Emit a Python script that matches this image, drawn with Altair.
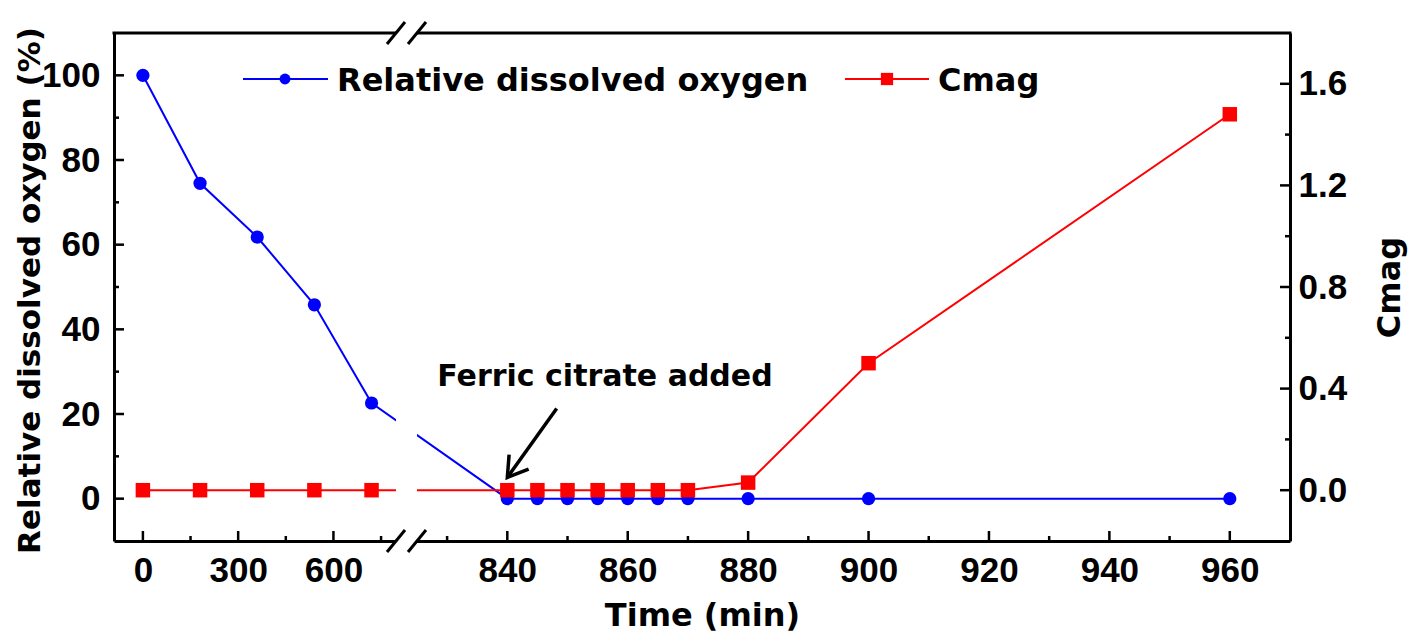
import altair as alt
import pandas as pd

# ---------------- data ----------------
time_min = [0, 180, 360, 540, 720, 840, 845, 850, 855, 860, 865, 870, 880, 900, 960]
rel_oxygen = [100, 74.5, 61.8, 45.8, 22.6, 0, 0, 0, 0, 0, 0, 0, 0, 0, 0]
cmag = [0, 0, 0, 0, 0, 0, 0, 0, 0, 0, 0, 0, 0.03, 0.50, 1.48]

x_major = [0, 300, 600, 840, 860, 880, 900, 920, 940, 960]
x_minor = [150, 450, 750, 830, 850, 870, 890, 910, 930, 950]
yl_major = [0, 20, 40, 60, 80, 100]
yl_minor = [10, 30, 50, 70, 90]
yr_major = [0.0, 0.4, 0.8, 1.2, 1.6]
yr_minor = [0.2, 0.6, 1.0, 1.4]

series_names = ["Relative dissolved oxygen", "Cmag"]
annotation = ["Ferric citrate added"]
arrow_tail = [848.2, 21.3]   # (time, % oxygen)
arrow_tip = [840, 5.0]

# broken x axis: [start, end of segment 1, start of segment 2, end]
x_domain = [-91, 797, 825, 970]
yl_domain = [-10, 110]
yr_domain = [-0.2, 1.8]

# ---------------- layout / style ----------------
W, H = 1176, 508
X_RANGE = [0, 282, 303, W]
LABEL_FONT = "Liberation Sans"
TEXT_FONT = "DejaVu Sans"
BLUE = "#0000FF"
RED = "#FF0000"
ARROW_PATH = "M -0.53 -0.848 L 0 0 L 0.53 -0.848"

xscale = alt.Scale(domain=x_domain, range=X_RANGE, zero=False, nice=False)
xaxis = alt.Axis(values=x_major, format="d", ticks=False, tickSize=0, grid=False,
                 domain=True, domainColor="black", domainWidth=3,
                 labelFont=LABEL_FONT, labelFontSize=35, labelFontWeight="bold",
                 labelColor="black", labelPadding=12, labelBaseline="top",
                 labelFlush=False, labelOverlap=False, labelBound=False,
                 titleFont=TEXT_FONT, titleFontSize=32, titleFontWeight="bold",
                 titleColor="black", titleX=W / 2, titleY=84, titleAlign="center",
                 titleBaseline="alphabetic", titleAngle=0)

ylscale = alt.Scale(domain=yl_domain, zero=False, nice=False)
ylaxis = alt.Axis(orient="left", values=yl_major, format="d", ticks=False, tickSize=0,
                  grid=False, domain=True, domainColor="black", domainWidth=3,
                  labelFont=LABEL_FONT, labelFontSize=35, labelFontWeight="bold",
                  labelColor="black", labelPadding=14, labelBaseline="middle",
                  labelOverlap=False, labelFlush=False,
                  titleFont=TEXT_FONT, titleFontSize=31, titleFontWeight="bold",
                  titleColor="black", titleAngle=270, titleX=-75, titleY=H / 2 + 3,
                  titleAlign="center", titleBaseline="alphabetic")

yrscale = alt.Scale(domain=yr_domain, zero=False, nice=False)
yraxis = alt.Axis(orient="right", values=yr_major, format=".1f", ticks=False, tickSize=0,
                  grid=False, domain=True, domainColor="black", domainWidth=3,
                  labelFont=LABEL_FONT, labelFontSize=35, labelFontWeight="bold",
                  labelColor="black", labelPadding=8, labelBaseline="middle",
                  labelOverlap=False, labelFlush=False,
                  titleFont=TEXT_FONT, titleFontSize=32, titleFontWeight="bold",
                  titleColor="black", titleAngle=270, titleX=109, titleY=H / 2,
                  titleAlign="center", titleBaseline="alphabetic")


def X(field):
    return alt.X(field, type="quantitative", scale=xscale, axis=xaxis, title="Time (min)")


def YL(field):
    return alt.Y(field, type="quantitative", scale=ylscale, axis=ylaxis,
                 title="Relative dissolved oxygen (%)")


def YR(field):
    return alt.Y(field, type="quantitative", scale=yrscale, axis=yraxis, title="Cmag")


df = pd.DataFrame({"time": time_min, "oxygen": rel_oxygen, "cmag": cmag})
one = pd.DataFrame({"k": [0]})

# ---------------- left (oxygen) group ----------------
blue_line = alt.Chart(df).mark_line(color=BLUE, strokeWidth=2).encode(x=X("time"), y=YL("oxygen"))
blue_pts = alt.Chart(df).mark_point(shape="circle", filled=True, size=175, color=BLUE,
                                    opacity=1).encode(x=X("time"), y=YL("oxygen"))

xt_major = alt.Chart(pd.DataFrame({"v": x_major})).mark_rule(color="black", strokeWidth=2.5).encode(
    x=X("v"), y=alt.value(H), y2=alt.value(H - 10))
xt_minor = alt.Chart(pd.DataFrame({"v": x_minor})).mark_rule(color="black", strokeWidth=2.5).encode(
    x=X("v"), y=alt.value(H), y2=alt.value(H - 5))
ylt_major = alt.Chart(pd.DataFrame({"v": yl_major})).mark_rule(color="black", strokeWidth=2.5).encode(
    y=YL("v"), x=alt.value(0), x2=alt.value(10))
ylt_minor = alt.Chart(pd.DataFrame({"v": yl_minor})).mark_rule(color="black", strokeWidth=2.5).encode(
    y=YL("v"), x=alt.value(0), x2=alt.value(5))

top_rule = alt.Chart(one).mark_rule(color="black", strokeWidth=3, strokeCap="square").encode(
    x=alt.value(0), x2=alt.value(W), y=alt.value(0))

df_arrow = pd.DataFrame({"x": [arrow_tail[0]], "y": [arrow_tail[1]],
                         "x2": [arrow_tip[0]], "y2": [arrow_tip[1]]})
arrow_shaft = alt.Chart(df_arrow).mark_rule(color="black", strokeWidth=3.5).encode(
    x=X("x"), y=YL("y"), x2=alt.X2("x2"), y2=alt.Y2("y2"))
arrow_head = alt.Chart(df_arrow).mark_point(shape=ARROW_PATH, angle=36.5, size=2100, filled=False,
                                            color="black", strokeWidth=3.5, opacity=1).encode(
    x=X("x2"), y=YL("y2"))

ann_text = alt.Chart(pd.DataFrame({"t": annotation})).mark_text(
    font=TEXT_FONT, fontSize=30, fontWeight="bold", color="black", align="center",
    baseline="alphabetic").encode(x=alt.value(491), y=alt.value(353), text="t:N")

left = alt.layer(top_rule, xt_major, xt_minor, ylt_major, ylt_minor, blue_line, blue_pts,
                 arrow_shaft, arrow_head, ann_text)

# ---------------- right (Cmag) group ----------------
red_line = alt.Chart(df).mark_line(color=RED, strokeWidth=2).encode(x=X("time"), y=YR("cmag"))
red_pts = alt.Chart(df).mark_point(shape="square", filled=True, size=210, color=RED,
                                   opacity=1).encode(x=X("time"), y=YR("cmag"))
yrt_major = alt.Chart(pd.DataFrame({"v": yr_major})).mark_rule(color="black", strokeWidth=2.5).encode(
    y=YR("v"), x=alt.value(W), x2=alt.value(W - 10))
yrt_minor = alt.Chart(pd.DataFrame({"v": yr_minor})).mark_rule(color="black", strokeWidth=2.5).encode(
    y=YR("v"), x=alt.value(W), x2=alt.value(W - 5))

df_gap = pd.DataFrame({"a": [x_domain[1]], "b": [x_domain[2]]})
gap_rect = alt.Chart(df_gap).mark_rect(color="white", opacity=1).encode(
    x=X("a"), x2=alt.X2("b"), y=alt.value(-4), y2=alt.value(H + 4))

df_break = pd.DataFrame({"x": x_domain[1:3]})
slash_bottom = alt.Chart(df_break).mark_rule(color="black", strokeWidth=3, xOffset=-9, x2Offset=9,
                                             yOffset=11, y2Offset=-11).encode(
    x=X("x"), x2=alt.X2("x"), y=alt.value(H), y2=alt.value(H))
slash_top = alt.Chart(df_break).mark_rule(color="black", strokeWidth=3, xOffset=-9, x2Offset=9,
                                          yOffset=11, y2Offset=-11).encode(
    x=X("x"), x2=alt.X2("x"), y=alt.value(0), y2=alt.value(0))

# legend (drawn after the break gap so it is not hidden)
leg_b_line = alt.Chart(one).mark_rule(color=BLUE, strokeWidth=2).encode(
    x=alt.value(129), x2=alt.value(214), y=alt.value(46))
leg_b_pt = alt.Chart(one).mark_point(shape="circle", filled=True, size=120, color=BLUE,
                                     opacity=1).encode(x=alt.value(171), y=alt.value(46))
leg_b_txt = alt.Chart(pd.DataFrame({"t": [series_names[0]]})).mark_text(
    font=TEXT_FONT, fontSize=32, fontWeight="bold", color="black", align="left",
    baseline="alphabetic").encode(x=alt.value(223), y=alt.value(58), text="t:N")

leg_r_line = alt.Chart(one).mark_rule(color=RED, strokeWidth=2).encode(
    x=alt.value(731), x2=alt.value(815), y=alt.value(46))
leg_r_pt = alt.Chart(one).mark_point(shape="square", filled=True, size=150, color=RED,
                                     opacity=1).encode(x=alt.value(773), y=alt.value(46))
leg_r_txt = alt.Chart(pd.DataFrame({"t": [series_names[1]]})).mark_text(
    font=TEXT_FONT, fontSize=32, fontWeight="bold", color="black", align="left",
    baseline="alphabetic").encode(x=alt.value(824), y=alt.value(58), text="t:N")

right = alt.layer(yrt_major, yrt_minor, red_line, red_pts, gap_rect, slash_bottom, slash_top,
                  leg_b_line, leg_b_pt, leg_b_txt, leg_r_line, leg_r_pt, leg_r_txt)

chart = alt.layer(left, right).resolve_scale(y="independent").properties(
    width=W, height=H,
    autosize=alt.AutoSizeParams(type="none"),
    padding={"left": 106, "top": 25, "right": 120, "bottom": 94},
    background="white",
).configure_view(stroke=None)

chart.save("out.html", embed_options={"renderer": "svg", "actions": False})
